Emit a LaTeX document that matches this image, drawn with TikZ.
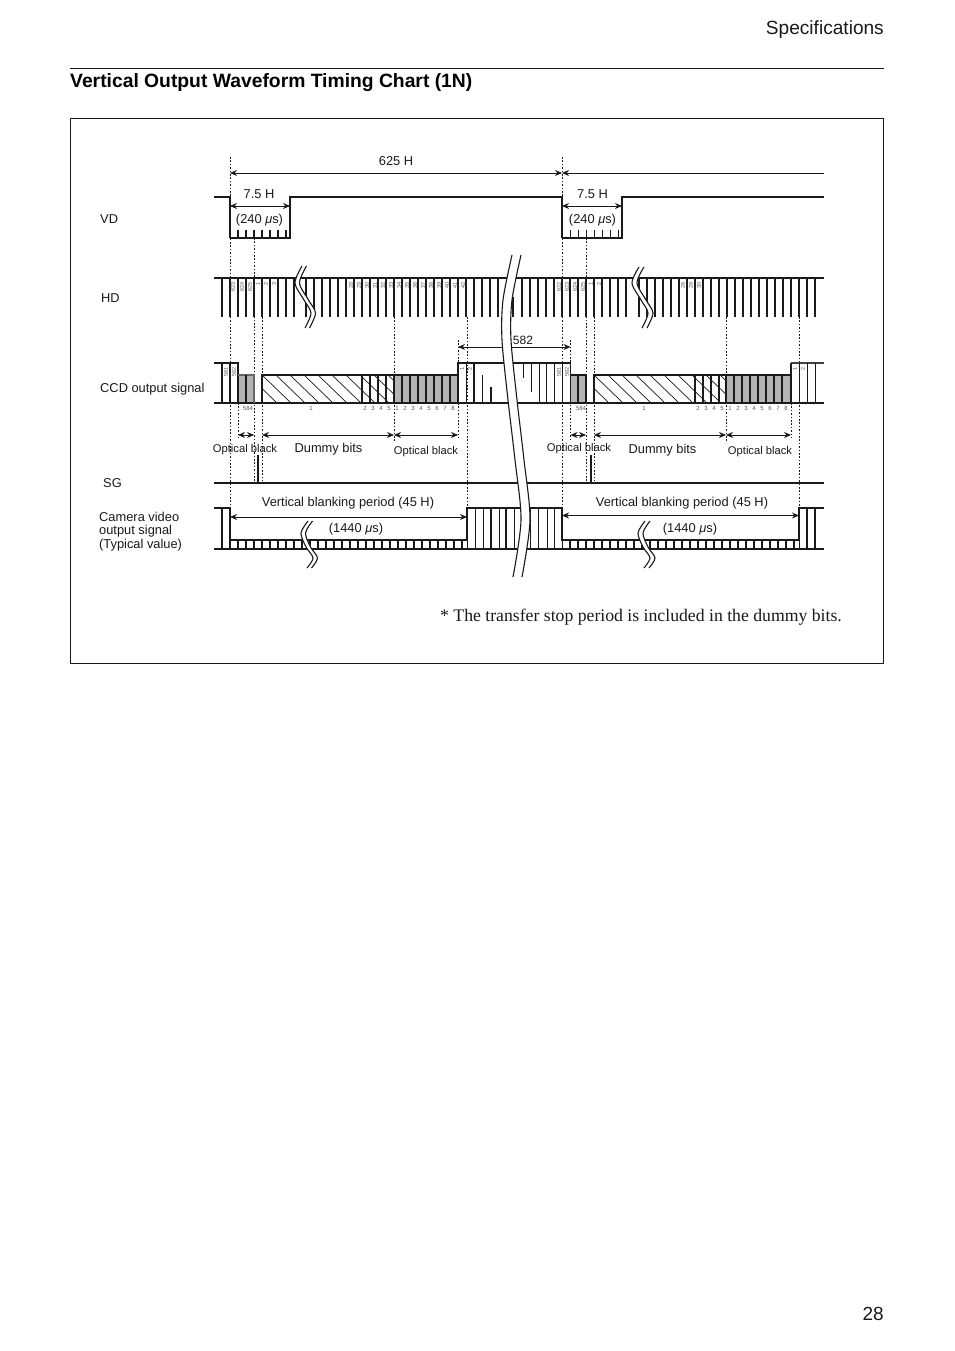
\documentclass[tikz,border=0pt]{standalone}
\usepackage{fontspec}
\setmainfont{Liberation Sans}
\newfontfamily\serifnote{Liberation Serif}
\usetikzlibrary{arrows.meta}
\definecolor{ink}{HTML}{1A1A1A}
\definecolor{obgrey}{HTML}{B4B4B4}
\tikzset{
  sig/.style={line width=1.5pt,draw=ink},
  tick/.style={line width=1.3pt,draw=ink},
  fat tick/.style={line width=2pt,draw=ink},
  hatchline/.style={line width=0.7pt,draw=ink},
  guide/.style={line width=0.8pt,draw=ink,dash pattern=on 1.6pt off 1.8pt},
  dim/.style={line width=0.9pt,draw=ink,{Stealth[length=7pt,width=6pt]}-{Stealth[length=7pt,width=6pt]}},
  lab/.style={font=\fontsize{12.85}{15.5}\selectfont,text=ink,inner sep=0pt,yshift=-0.5pt},
  olab/.style={font=\fontsize{11.2}{13}\selectfont,text=ink,inner sep=0pt,yshift=-1.4pt},
  tiny/.style={font=\fontsize{6}{6}\selectfont,text=black!65,inner sep=0pt},
  vtiny/.style={tiny,font=\fontsize{5.5}{5.5}\selectfont,rotate=90},
  wavecurve/.style={line width=1.1pt,draw=ink},
}
\begin{document}
\begin{tikzpicture}[x=1pt,y=-1pt]
\useasboundingbox (0,0) rectangle (954,1351);
\fill[white] (0,0) rectangle (954,1351);

% page furniture
\node[anchor=east,inner sep=0pt,font=\fontsize{19.1}{22}\selectfont,text=ink] (spec) at (884,30) {Specifications};
\draw[line width=0.9pt,draw=ink] (70,68.5) -- (884,68.5);
\node[anchor=west,inner sep=0pt,font=\bfseries\fontsize{19.3}{22}\selectfont,text=black] (title) at (70,82.5) {Vertical Output Waveform Timing Chart (1N)};
\draw[line width=0.9pt,draw=ink] (70.5,118.5) rectangle (883.5,663.5);
\node[anchor=east,inner sep=0pt,font=\fontsize{19}{22}\selectfont,text=ink] (pageno) at (884,1314) {28};

% dotted guides
\foreach \x/\a/\b in {230/157/508, 562/157/508, 254/238/481, 262/317/481, 586/238/481, 594/317/481,
   238/403/438, 394/317/441, 458/340/363, 458/403/438, 467/317/508, 570.5/340/441, 726/317/441, 791/403/438, 799.5/317/508}
  \draw[guide] (\x,\a) -- (\x,\b);

% dimension lines on top
\draw[dim] (230,173) -- (562,173);
\draw[line width=0.9pt,draw=ink,{Stealth[length=7pt,width=6pt]}-] (562,173) -- (824,173);
\draw[dim] (230,206) -- (290,206);
\draw[dim] (562,206) -- (622,206);
\node[lab] (l625) at (396,161) {625 H};
\node[lab] (l75a) at (259,194) {7.5 H};
\node[lab] (l75b) at (592.5,194) {7.5 H};
\node[lab] (l240a) at (259.5,220) {(240 \textit{μ}s)};
\node[lab] (l240b) at (592.5,220) {(240 \textit{μ}s)};

% VD
\draw[sig,line width=1.3pt] (214,197) -- (230,197) -- (230,238) (290,238) -- (290,197) -- (562,197) -- (562,238) (622,238) -- (622,197) -- (824,197);
\draw[sig,line width=2pt] (229.5,238) -- (290.5,238) (561.5,238) -- (622.5,238);
\foreach \k in {1,...,7} {
  \draw[tick] ({230+8*\k},230) -- ({230+8*\k},238);
  \draw[tick,line width=1pt] ({562+8*\k},230) -- ({562+8*\k},238);
}

% HD
\draw[sig] (214,278) -- (824,278);
\foreach \k in {0,...,9} \draw[tick] ({222+8*\k},278) -- ({222+8*\k},317);
\foreach \k in {0,...,24} \draw[tick] ({306+8*\k},278) -- ({306+8*\k},317);
\foreach \k in {0,...,13} \draw[tick] ({522+8*\k},278) -- ({522+8*\k},317);
\foreach \k in {0,...,22} \draw[tick] ({639+8*\k},278) -- ({639+8*\k},317);
\foreach \x/\t in {233/623,242/624,250/625,258/1,266/2,274/3,351/28,359/29,367/30,375/31,383/32,391/33,399/34,407/35,415/36,423/37,431/38,439/39,447/40,455/41,463/42,
   559/622,567/623,575/624,583/625,591/1,599/2,683/28,691/29,699/30}
  \node[vtiny,anchor=east] (hd\x) at (\x,282) {\t};

% CCD: grey blocks
\fill[obgrey] (238,375) rectangle (254,403) (570.5,375) rectangle (586,403) (394,375) rectangle (458,403) (726,375) rectangle (791,403);
% CCD: hatching
\begin{scope}
  \clip (262,375) rectangle (394,403);
  \foreach \k in {-3,...,10} \draw[hatchline] ({262+14*\k},375) -- ({262+14*\k+29},403);
\end{scope}
\begin{scope}
  \clip (594,375) rectangle (726,403);
  \foreach \k in {-3,...,10} \draw[hatchline] ({594+14*\k},375) -- ({594+14*\k+29},403);
\end{scope}
% CCD: outline
\draw[sig] (214,403) -- (824,403);
\draw[sig,line width=1.8pt] (214,363) -- (238,363) -- (238,403);
\draw[sig,line width=1.8pt] (222,363) -- (222,403) (230,363) -- (230,403);
\draw[sig,line width=1.2pt,draw=black!60] (238,375) -- (254,375) -- (254,403);
\draw[sig,line width=1.7pt] (246,375) -- (246,403);
\draw[sig,line width=1.9pt] (262,403) -- (262,375) -- (458,375) -- (458,363) -- (506,363);
\draw[sig,line width=1.9pt] (394,375) -- (394,403) (458,375) -- (458,403);
\foreach \x in {362,370,378} \draw[tick,line width=1.4pt] (\x,375) -- (\x,403);
\draw[tick,line width=2pt] (386,375) -- (386,403);
\foreach \x in {402,410,418,426,434,442,450} \draw[tick,line width=1.2pt] (\x,375) -- (\x,403);
\draw[tick,line width=1pt] (466,363) -- (466,403);
\draw[fat tick] (474,363) -- (474,403);
\draw[tick,line width=1pt] (482,375) -- (482,403);
\draw[fat tick] (491,387) -- (491,403);
\draw[sig,line width=1.6pt] (510,363) -- (570.5,363) -- (570.5,375);
\draw[sig,line width=1.2pt] (570.5,375) -- (570.5,403);
\draw[tick,line width=1pt] (523,363) -- (523,378) (531,363) -- (531,392);
\foreach \x in {539,546,554,562} \draw[tick,line width=1pt] (\x,363) -- (\x,403);
\draw[sig,line width=1.7pt] (570.5,375) -- (586,375) (586,375) -- (586,403);
\draw[tick,line width=1.5pt] (578,375) -- (578,403);
\draw[sig,line width=1.9pt] (594,403) -- (594,375) -- (791,375) -- (791,363);
\draw[sig,line width=1.9pt] (726,375) -- (726,403) (791,375) -- (791,403);
\foreach \x in {695,703,711} \draw[tick,line width=1.4pt] (\x,375) -- (\x,403);
\draw[tick,line width=2pt] (719,375) -- (719,403);
\foreach \x in {734,742,750,758,766,774,782} \draw[tick,line width=1.2pt] (\x,375) -- (\x,403);
\draw[sig,line width=1.1pt,draw=black!75] (791,363) -- (824,363);
\foreach \x in {799,807,815} \draw[tick,line width=1pt] (\x,363) -- (\x,403);
% CCD: small labels
\foreach \x/\t in {226/581,234/582,559/581,567/582,462/1,470/2,795/1,803/2}
  \node[vtiny,anchor=east] (cc\x) at (\x,367.5) {\t};
\foreach \x/\t in {248/584,311/1,365/2,373/3,381/4,389/5,397/1,405/2,413/3,421/4,429/5,437/6,445/7,453/8,
   581/584,644/1,698/2,706/3,714/4,722/5,730/1,738/2,746/3,754/4,762/5,770/6,778/7,786/8}
  \node[tiny] (cb\x) at (\x,408) {\t};

% CCD dimensions
\foreach \a/\b in {238/254,262/394,394/458,570.5/586,594/726,726/791}
  \draw[dim] (\a,435) -- (\b,435);
\draw[dim] (458,347) -- (570.5,347);
\node[lab,font=\fontsize{12}{14}\selectfont] (l582) at (523,340) {582};
\node[olab] (ob1) at (245,448) {Optical black};
\node[lab] (db1) at (328.5,449) {Dummy bits};
\node[olab] (ob2) at (426,450.5) {Optical black};
\node[olab] (ob3) at (579,447) {Optical black};
\node[lab] (db2) at (662.5,450) {Dummy bits};
\node[olab] (ob4) at (760,450.5) {Optical black};

% SG
\draw[sig,line width=1.2pt] (214,483) -- (824,483);
\draw[fat tick] (258,455) -- (258,483);
\draw[fat tick] (590.5,455) -- (590.5,483);

% Camera video
\draw[sig] (214,549) -- (824,549);
\draw[sig,line width=1.3pt] (214,508) -- (230,508);
\draw[fat tick] (222,508) -- (222,549);
\draw[fat tick] (230,508) -- (230,549);
\draw[sig,line width=1.1pt] (230,540) -- (467,540) -- (467,508) -- (562,508) -- (562,540) -- (799,540) -- (799,508) -- (824,508);
\draw[tick,line width=1pt] (467,540) -- (467,549) (562,540) -- (562,549) (799,540) -- (799,549);
\foreach \k in {1,...,29} \draw[tick,line width=1.2pt] ({230+8*\k},540) -- ({230+8*\k},549);
\foreach \k in {1,...,29} \draw[tick,line width=1.2pt] ({562+8*\k},540) -- ({562+8*\k},549);
\foreach \x in {475,483,499,514,530,538,547,554} \draw[tick,line width=1pt] (\x,508) -- (\x,549);
\foreach \x in {491,506} \draw[fat tick] (\x,508) -- (\x,549);
\draw[fat tick] (807,508) -- (807,549) (815,508) -- (815,549);
\draw[dim] (230,517) -- (467,517);
\draw[dim] (562,515.5) -- (799,515.5);
\node[lab] (vb1) at (348,503) {Vertical blanking period (45 H)};
\node[lab] (vb2) at (682,503) {Vertical blanking period (45 H)};
\node[lab] (us1) at (356,529) {(1440 \textit{μ}s)};
\node[lab] (us2) at (690,529) {(1440 \textit{μ}s)};

% row names
\node[lab,anchor=west] (nvd) at (100,219) {VD};
\node[lab,anchor=west] (nhd) at (101,298) {HD};
\node[lab,anchor=west] (nccd) at (100,389) {CCD output signal};
\node[lab,anchor=west] (nsg) at (103,483) {SG};
\node[lab,anchor=west] (ncam1) at (99,516) {Camera video};
\node[lab,anchor=west] (ncam2) at (99,531) {output signal};
\node[lab,anchor=west] (ncam3) at (99,545) {(Typical value)};

% note
\node[anchor=west,inner sep=0pt,font=\serifnote\fontsize{17.7}{21}\selectfont,text=ink] (note) at (440,617) {* The transfer stop period is included in the dummy bits.};

% big break through all rows
\fill[white] plot[smooth] coordinates {(512,255) (503,300) (502,340) (508,400) (515,460) (521,520) (513,577)}
  -- plot[smooth] coordinates {(522,577) (530,520) (524,460) (517,400) (511,340) (512,300) (521,255)} -- cycle;
\draw[wavecurve] plot[smooth] coordinates {(512,255) (503,300) (502,340) (508,400) (515,460) (521,520) (513,577)};
\draw[wavecurve] plot[smooth] coordinates {(521,255) (512,300) (511,340) (517,400) (524,460) (530,520) (522,577)};
\draw[fat tick] (513,297) -- (513,317);

% small breaks, HD row
\foreach \dx/\w/\top in {0/4.5/266, 337/5/267} {
  \fill[white] plot[smooth] coordinates {({302+\dx},\top) ({295+\dx},283) ({304+\dx},300) ({311+\dx},313) ({305+\dx},328)}
    -- plot[smooth] coordinates {({305+\dx+\w},328) ({311+\dx+\w},313) ({304+\dx+\w},300) ({295+\dx+\w},283) ({302+\dx+\w},\top)} -- cycle;
  \draw[wavecurve] plot[smooth] coordinates {({302+\dx},\top) ({295+\dx},283) ({304+\dx},300) ({311+\dx},313) ({305+\dx},328)};
  \draw[wavecurve] plot[smooth] coordinates {({302+\dx+\w},\top) ({295+\dx+\w},283) ({304+\dx+\w},300) ({311+\dx+\w},313) ({305+\dx+\w},328)};
}
% small breaks, camera row
\foreach \dx/\w in {0/4.5, 337/5} {
  \fill[white] plot[smooth] coordinates {({308+\dx},521) ({301+\dx},533) ({306+\dx},547) ({313+\dx},558) ({307+\dx},568)}
    -- plot[smooth] coordinates {({307+\dx+\w},568) ({313+\dx+\w},558) ({306+\dx+\w},547) ({301+\dx+\w},533) ({308+\dx+\w},521)} -- cycle;
  \draw[wavecurve] plot[smooth] coordinates {({308+\dx},521) ({301+\dx},533) ({306+\dx},547) ({313+\dx},558) ({307+\dx},568)};
  \draw[wavecurve] plot[smooth] coordinates {({308+\dx+\w},521) ({301+\dx+\w},533) ({306+\dx+\w},547) ({313+\dx+\w},558) ({307+\dx+\w},568)};
}
\end{tikzpicture}
\end{document}
